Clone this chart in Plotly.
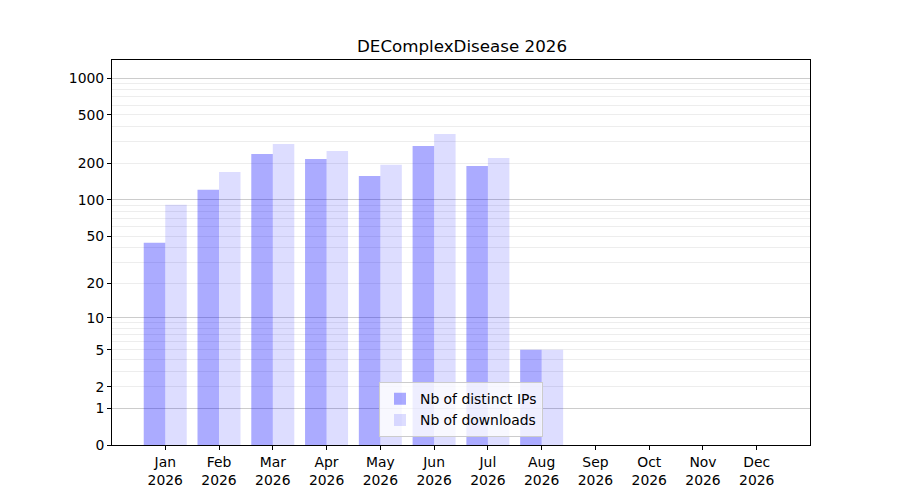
import plotly.graph_objects as go

# monthly stats
months = ["Jan", "Feb", "Mar", "Apr", "May", "Jun", "Jul", "Aug", "Sep", "Oct", "Nov", "Dec"]
year = "2026"
distinct_ips = [44, 121, 238, 217, 157, 278, 190, 5, 0, 0, 0, 0]
downloads = [91, 170, 288, 253, 195, 348, 221, 5, 0, 0, 0, 0]

# tick labels on the y axis (axis is log10(1 + value))
y_ticks = [0, 1, 2, 5, 10, 20, 50, 100, 200, 500, 1000]
y_major_grid = [1, 10, 100, 1000]
y_minor_grid = [m * d for d in (1, 10, 100) for m in range(2, 10)]

FONT = "DejaVu Sans"

x = list(range(len(months)))
ticktext = [f"{m}<br>{year}" for m in months]

fig = go.Figure()

# base=1 so that bar tops land at 1 + value on the log axis
fig.add_trace(go.Bar(x=x, y=distinct_ips, base=1, name="Nb of distinct IPs",
                     marker=dict(color="rgba(0,0,255,0.33)", line=dict(width=0))))
fig.add_trace(go.Bar(x=x, y=downloads, base=1, name="Nb of downloads",
                     marker=dict(color="rgba(0,0,255,0.135)", line=dict(width=0))))

# page body has an 8px margin, so margins are shifted to compensate
fig.update_layout(
    width=900, height=500,
    margin=dict(l=104, r=98, t=52, b=63),
    plot_bgcolor="white", paper_bgcolor="white",
    font=dict(family=FONT, size=13.9, color="black"),
    barmode="group", bargap=0.2, bargroupgap=0,
    title=dict(text="DEComplexDisease 2026", x=(462 - 8) / 900, xanchor="center",
               y=1 - 38 / 500, yanchor="middle", font=dict(size=16.7)),
    xaxis=dict(
        tickmode="array", tickvals=x, ticktext=ticktext,
        range=[-0.99, 11.99], showgrid=False, zeroline=False,
        showline=True, linecolor="black", linewidth=1, mirror=True,
        ticks="outside", ticklen=4, tickcolor="black",
    ),
    yaxis=dict(
        type="log", range=[0, 3.148],
        tickmode="array", tickvals=[t + 1 for t in y_ticks], ticktext=[str(t) for t in y_ticks],
        showgrid=False, zeroline=False,
        showline=True, linecolor="black", linewidth=1, mirror=True,
        ticks="outside", ticklen=4, tickcolor="black",
        minor=dict(tickmode="array", tickvals=[t + 1 for t in y_minor_grid],
                   showgrid=True, gridcolor="rgba(0,0,0,0.07)", gridwidth=1, ticks=""),
    ),
    yaxis2=dict(
        type="log", range=[0, 3.148], overlaying="y", side="left",
        tickmode="array", tickvals=[t + 1 for t in y_major_grid],
        showticklabels=False, ticks="", showline=False, zeroline=False,
        showgrid=True, gridcolor="rgba(0,0,0,0.2)", gridwidth=1,
    ),
    legend=dict(
        x=0.5, xanchor="center", y=0.02, yanchor="bottom",
        bgcolor="rgba(255,255,255,0.8)", bordercolor="#cccccc", borderwidth=1,
        font=dict(size=13.9), tracegroupgap=0,
    ),
)

# dummy trace so the grid axis is drawn
fig.add_trace(go.Scatter(x=[None], y=[None], yaxis="y2", showlegend=False, hoverinfo="skip"))

fig.write_html("out.html")
